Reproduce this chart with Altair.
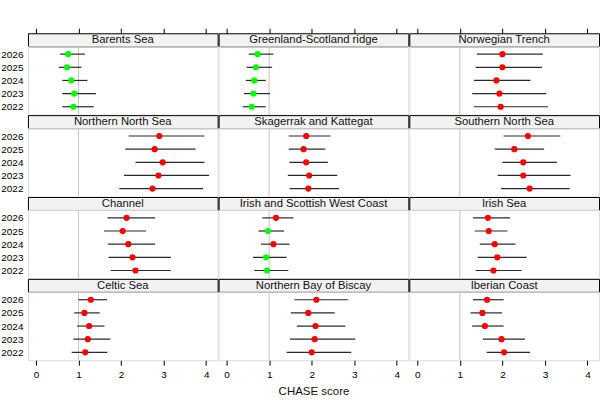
import altair as alt
import pandas as pd

# CHASE integrated assessment scores by region and year, with confidence limits
regions = [
    "Barents Sea", "Greenland-Scotland ridge", "Norwegian Trench",
    "Northern North Sea", "Skagerrak and Kattegat", "Southern North Sea",
    "Channel", "Irish and Scottish West Coast", "Irish Sea",
    "Celtic Sea", "Northern Bay of Biscay", "Iberian Coast",
]
years = [2026, 2025, 2024, 2023, 2022]

chase = [
    [0.76, 0.73, 0.83, 0.90, 0.88],
    [0.73, 0.69, 0.65, 0.63, 0.59],
    [2.00, 2.00, 1.86, 1.93, 1.96],
    [2.90, 2.79, 2.98, 2.88, 2.74],
    [1.87, 1.81, 1.87, 1.94, 1.92],
    [2.60, 2.28, 2.49, 2.49, 2.64],
    [2.13, 2.04, 2.17, 2.27, 2.34],
    [1.16, 0.97, 1.10, 0.93, 0.95],
    [1.66, 1.68, 1.82, 1.88, 1.79],
    [1.29, 1.14, 1.25, 1.22, 1.16],
    [2.11, 1.92, 2.09, 2.07, 2.00],
    [1.64, 1.53, 1.59, 1.98, 2.04],
]
lower = [
    [0.57, 0.54, 0.62, 0.62, 0.62],
    [0.52, 0.47, 0.45, 0.41, 0.38],
    [1.40, 1.37, 1.33, 1.29, 1.33],
    [2.18, 2.10, 2.34, 2.07, 1.96],
    [1.46, 1.46, 1.48, 1.44, 1.48],
    [2.03, 1.82, 2.00, 1.89, 1.97],
    [1.68, 1.60, 1.69, 1.71, 1.76],
    [0.84, 0.75, 0.81, 0.62, 0.65],
    [1.31, 1.35, 1.47, 1.42, 1.37],
    [1.00, 0.90, 0.97, 0.88, 0.84],
    [1.59, 1.51, 1.65, 1.49, 1.41],
    [1.31, 1.25, 1.29, 1.54, 1.63],
]
upper = [
    [1.15, 1.07, 1.21, 1.41, 1.36],
    [1.10, 1.07, 0.92, 1.02, 0.92],
    [2.95, 2.93, 2.66, 3.03, 3.07],
    [3.96, 3.75, 3.96, 4.07, 3.93],
    [2.44, 2.32, 2.38, 2.60, 2.64],
    [3.36, 2.98, 3.28, 3.60, 3.58],
    [2.80, 2.59, 2.80, 3.17, 3.17],
    [1.57, 1.35, 1.48, 1.41, 1.45],
    [2.18, 2.12, 2.31, 2.57, 2.45],
    [1.67, 1.50, 1.61, 1.75, 1.68],
    [2.85, 2.54, 2.79, 3.02, 2.93],
    [2.03, 1.99, 2.03, 2.53, 2.65],
]
x_ticks = [0, 1, 2, 3, 4]
threshold = 1.0

rows = []
for r, name in enumerate(regions):
    for k, yr in enumerate(years):
        v = chase[r][k]
        rows.append({
            "region": name, "year": yr, "chase": v,
            "lo": lower[r][k], "hi": upper[r][k],
            "colour": "#00FF00" if v < threshold else "#FF0000",
        })
df = pd.DataFrame(rows)
ref_df = pd.DataFrame({"ref": [threshold]})

FONT = "Liberation Sans"
PANEL_W = 190
STRIP_H = 13
PLOT_H = 68.5
X_DOMAIN = [-0.187, 4.27]


def xscale():
    return alt.Scale(domain=X_DOMAIN, nice=False, zero=False)


def strip(name, top_axis):
    label = alt.Chart(pd.DataFrame({"region": [name]})).mark_text(
        font=FONT, fontSize=11.3, color="#111111", baseline="middle"
    ).encode(
        text="region:N",
        x=alt.value(PANEL_W / 2),
        y=alt.value(STRIP_H / 2 + 0.5),
    )
    layers = [label]
    if top_axis:
        layers.append(
            alt.Chart(df[df.region == name]).mark_point(opacity=0).encode(
                x=alt.X("chase:Q", scale=xscale(), axis=alt.Axis(
                    orient="top", values=x_ticks, labels=False, title=None,
                    tickSize=5, tickColor="black", domain=False, grid=False)),
            )
        )
    return alt.layer(*layers).properties(
        width=PANEL_W, height=STRIP_H,
        view=alt.ViewBackground(fill="#F2F2F2", stroke="black", strokeWidth=1),
    )


def panel(idx, row, col):
    sub = df[df.region == regions[idx]]
    if row == 3:
        xaxis = alt.Axis(
            orient="bottom", values=x_ticks, grid=False, domain=False,
            tickSize=5, tickColor="black", labelPadding=4, labelFontSize=10,
            labelColor="black", labelFont=FONT,
            title="CHASE score" if col == 1 else None,
            titleFont=FONT, titleFontSize=11.5, titleFontWeight="normal",
            titleColor="#111111", titlePadding=6,
        )
    else:
        xaxis = None
    if col == 0:
        yaxis = alt.Axis(
            title=None, ticks=False, tickSize=0, domain=False, grid=False,
            labelPadding=5, labelFontSize=10, labelColor="black", labelFont=FONT,
        )
    else:
        yaxis = None
    yenc = alt.Y("year:O", sort=years,
                 scale=alt.Scale(type="point", padding=0.6), axis=yaxis)

    vline = alt.Chart(ref_df).mark_rule(color="#C4C4C4", strokeWidth=1).encode(
        x=alt.X("ref:Q", scale=xscale(), axis=xaxis)
    )
    bars = alt.Chart(sub).mark_rule(color="#2A2A2A", strokeWidth=1.2).encode(
        x=alt.X("lo:Q", scale=xscale(), axis=xaxis),
        x2="hi:Q",
        y=yenc,
    )
    dots = alt.Chart(sub).mark_circle(size=38, opacity=1).encode(
        x=alt.X("chase:Q", scale=xscale(), axis=xaxis),
        y=yenc,
        color=alt.Color("colour:N", scale=None),
    )
    return alt.layer(vline, bars, dots).properties(width=PANEL_W, height=PLOT_H)


columns = []
for c in range(3):
    items = []
    for r in range(4):
        idx = r * 3 + c
        items.append(strip(regions[idx], top_axis=(r == 0)))
        items.append(panel(idx, r, c))
    columns.append(alt.vconcat(*items, spacing=0, bounds="flush"))

# neighbouring panels share their border line
chart = alt.hconcat(*columns, spacing=-2).properties(
    padding={"left": 0, "top": 27, "right": 0, "bottom": 0},
    background="white",
).configure_view(
    stroke="black", strokeWidth=1
).configure(font=FONT)

chart.save("out.html", embed_options={"renderer": "svg", "actions": False})
